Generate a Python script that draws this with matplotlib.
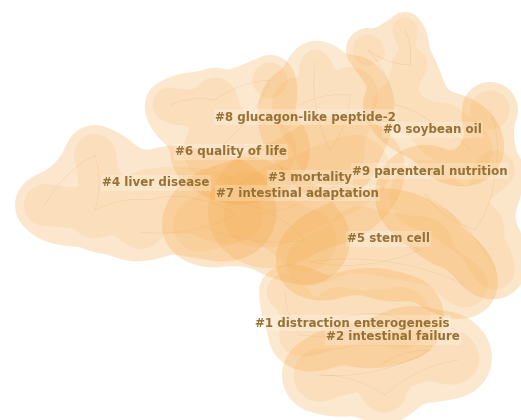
import numpy as np
import matplotlib
matplotlib.use("Agg")
import matplotlib.pyplot as plt

# cluster labels: text, left x, centre y (pixel space of the map)
labels = ["#8 glucagon-like peptide-2", "#0 soybean oil", "#6 quality of life",
          "#9 parenteral nutrition", "#3 mortality", "#4 liver disease",
          "#7 intestinal adaptation", "#5 stem cell",
          "#1 distraction enterogenesis", "#2 intestinal failure"]
label_x = [215, 383, 175, 352, 268, 102, 216, 347, 255, 326]
label_y = [117, 130, 152, 171, 178, 183, 193, 239, 323, 337]

# cluster areas, each one a blob around a few member nodes (cx, cy, r)
cluster_areas = {
    "#4": [(45, 205, 30), (95, 155, 30), (95, 210, 40), (150, 200, 45),
           (200, 200, 45), (235, 215, 40), (140, 232, 22)],
    "#6": [(170, 105, 25), (215, 100, 32), (270, 80, 25), (215, 150, 45),
           (265, 150, 45)],
    "#8": [(300, 105, 40), (350, 95, 40), (330, 150, 50), (315, 62, 18)],
    "#0": [(405, 30, 18), (410, 65, 25), (368, 50, 22), (395, 105, 32),
           (440, 130, 40), (470, 150, 32)],
    "#9": [(490, 110, 28), (495, 170, 28), (475, 230, 42), (425, 195, 50),
           (495, 270, 28)],
    "#3": [(300, 195, 55), (355, 170, 50), (255, 215, 45)],
    "#7": [(250, 205, 48), (305, 240, 45), (200, 225, 38)],
    "#5": [(360, 240, 48), (420, 250, 48), (310, 262, 34), (465, 285, 32)],
    "#1": [(340, 318, 44), (400, 318, 44), (300, 335, 30), (285, 292, 26)],
    "#2": [(380, 365, 45), (430, 350, 40), (320, 375, 38), (385, 395, 22),
           (458, 360, 30)],
}
area_alpha = [0.26, 0.25, 0.24, 0.27, 0.28, 0.22, 0.27, 0.28, 0.25, 0.25]

W, H = 521, 420
fig = plt.figure(figsize=(W / 100, H / 100), dpi=100)
ax = fig.add_axes([0, 0, 1, 1])
ax.set_xlim(0, W)
ax.set_ylim(H, 0)
ax.axis("off")

gx, gy = np.meshgrid(np.arange(0, W + 1, 1.0), np.arange(0, H + 1, 1.0))
K = 1.9
THRESH = (1 - 1 / K ** 2) ** 2


def blob_field(discs, scale=1.0):
    # compact-support blend, boundary of a lone node sits at radius r
    f = np.zeros_like(gx)
    for cx, cy, r in discs:
        d2 = ((gx - cx) ** 2 + (gy - cy) ** 2) / (K * r * scale) ** 2
        f += np.clip(1 - d2, 0, None) ** 2
    return f


fill = (0.96, 0.65, 0.26)
for (name, discs), a in zip(cluster_areas.items(), area_alpha):
    ax.contourf(gx, gy, blob_field(discs), levels=[THRESH, 1e9], colors=[fill],
                alpha=a, zorder=1, antialiased=True)
    # a denser core for each area
    ax.contourf(gx, gy, blob_field(discs, 0.7), levels=[THRESH, 1e9], colors=[fill],
                alpha=0.12, zorder=1, antialiased=True)
    # faint links between member nodes
    pts = np.array([(cx, cy) for cx, cy, r in discs])
    for p, q in zip(pts[:-1], pts[1:]):
        mid = (p + q) / 2 + np.array([(q - p)[1], -(q - p)[0]]) * 0.15
        t = np.linspace(0, 1, 30)[:, None]
        curve = (1 - t) ** 2 * p + 2 * (1 - t) * t * mid + t ** 2 * q
        ax.plot(curve[:, 0], curve[:, 1], color=(0.88, 0.66, 0.40), lw=0.4,
                alpha=0.3, zorder=2)

for txt, x, y in zip(labels, label_x, label_y):
    ax.text(x, y, txt, fontsize=8.6, fontweight="bold", color="#977236",
            ha="left", va="center", zorder=5,
            bbox=dict(boxstyle="square,pad=0.1", fc="white", ec="none", alpha=0.22))

fig.savefig("out.png", dpi=100, facecolor="white")
